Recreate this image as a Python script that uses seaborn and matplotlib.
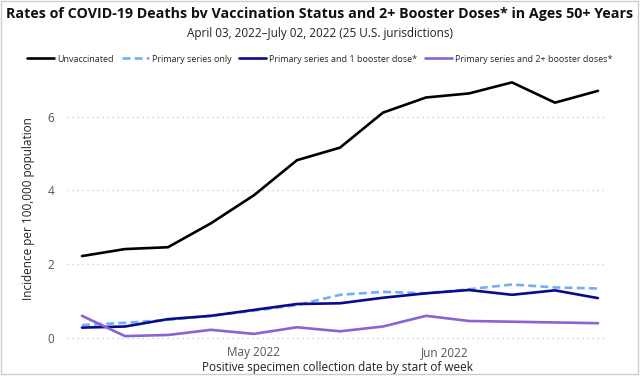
import matplotlib
matplotlib.use("Agg")
import matplotlib.pyplot as plt
import seaborn as sns
import pandas as pd
import numpy as np
from matplotlib.lines import Line2D

weeks = ["2022-04-03", "2022-04-10", "2022-04-17", "2022-04-24", "2022-05-01",
         "2022-05-08", "2022-05-15", "2022-05-22", "2022-05-29", "2022-06-05",
         "2022-06-12", "2022-06-19", "2022-06-26"]
unvaccinated = [2.22, 2.41, 2.46, 3.11, 3.87, 4.82, 5.16, 6.11, 6.52, 6.63, 6.93, 6.38, 6.70]
primary_only = [0.35, 0.41, 0.49, 0.60, 0.74, 0.89, 1.17, 1.25, 1.21, 1.32, 1.45, 1.37, 1.34]
one_booster = [0.28, 0.31, 0.51, 0.60, 0.76, 0.92, 0.94, 1.09, 1.21, 1.30, 1.17, 1.29, 1.08]
two_booster = [0.60, 0.05, 0.08, 0.22, 0.11, 0.29, 0.18, 0.31, 0.60, 0.46, 0.44, 0.42, 0.40]
series_names = ["Unvaccinated", "Primary series only",
                "Primary series and 1 booster dose*", "Primary series and 2+ booster doses*"]
tick_dates = ["2022-05-01", "2022-06-01"]
tick_labels = ["May 2022", "Jun 2022"]
y_ticks = [0, 2, 4, 6]

colors = ["#000000", "#73aef5", "#0a0a8c", "#8a63d2"]

dates = pd.to_datetime(weeks)
frames = []
for name, vals in zip(series_names, [unvaccinated, primary_only, one_booster, two_booster]):
    frames.append(pd.DataFrame({"week": dates, "value": vals, "series": name}))
df = pd.concat(frames, ignore_index=True)

sns.set_theme(style="white")
plt.rcParams["font.family"] = ["Open Sans", "DejaVu Sans"]

fig = plt.figure(figsize=(6.4, 3.76), dpi=100)
ax = fig.add_axes([67/640, 1-342/376, 540/640, 267/376])

sns.lineplot(data=df, x="week", y="value", hue="series", style="series",
             hue_order=series_names, style_order=series_names,
             palette=colors,
             dashes={series_names[0]: "", series_names[1]: (3, 1.6),
                     series_names[2]: "", series_names[3]: ""},
             linewidth=1.9, ax=ax, legend=False)

for s in ax.spines.values():
    s.set_visible(False)

ax.set_ylim(-0.11, 7.13)
ax.set_xlim(dates[0] - pd.Timedelta(days=2.44), dates[-1] + pd.Timedelta(days=1.47))
ax.set_yticks(y_ticks)
ax.set_yticklabels([str(t) for t in y_ticks])
ax.set_xticks(pd.to_datetime(tick_dates))
ax.set_xticklabels(tick_labels)
ax.tick_params(axis="y", labelsize=8.5, labelcolor="#555555", length=0, pad=9)
ax.tick_params(axis="x", labelsize=8.5, labelcolor="#555555", length=0, pad=3)
ax.yaxis.grid(True, linestyle=(0, (1, 3)), color="#c8c8c8", linewidth=0.9)
ax.xaxis.grid(False)
ax.set_axisbelow(True)

ax.set_ylabel("Incidence per 100,000 population", fontsize=8.5, color="#222222", labelpad=9)
ax.set_xlabel("Positive specimen collection date by start of week", fontsize=8.5,
              color="#222222", labelpad=1)

fig.text(0.5, 1-14/376, "Rates of COVID-19 Deaths bv Vaccination Status and 2+ Booster Doses* in Ages 50+ Years",
         ha="center", va="center", fontsize=10.3, fontweight="bold", color="#111111")
fig.text(0.5, 1-34/376, "April 03, 2022\u2013July 02, 2022 (25 U.S. jurisdictions)",
         ha="center", va="center", fontsize=8.5, color="#222222")

handles = [Line2D([], [], color=colors[0], lw=1.9),
           Line2D([], [], color=colors[1], lw=1.9, dashes=(3, 1.6)),
           Line2D([], [], color=colors[2], lw=1.9),
           Line2D([], [], color=colors[3], lw=1.9)]
fig.legend(handles, series_names, loc="center", bbox_to_anchor=(0.5, 1-59/376),
           ncol=4, frameon=False, fontsize=6.5, handlelength=3.0, handletextpad=0.3,
           columnspacing=0.9, borderaxespad=0)

fig.patches.append(matplotlib.patches.Rectangle((0.002, 0.006), 0.995, 0.991,
                   transform=fig.transFigure, fill=False, edgecolor="#cccccc", linewidth=1))

fig.savefig("out.png", dpi=100)
